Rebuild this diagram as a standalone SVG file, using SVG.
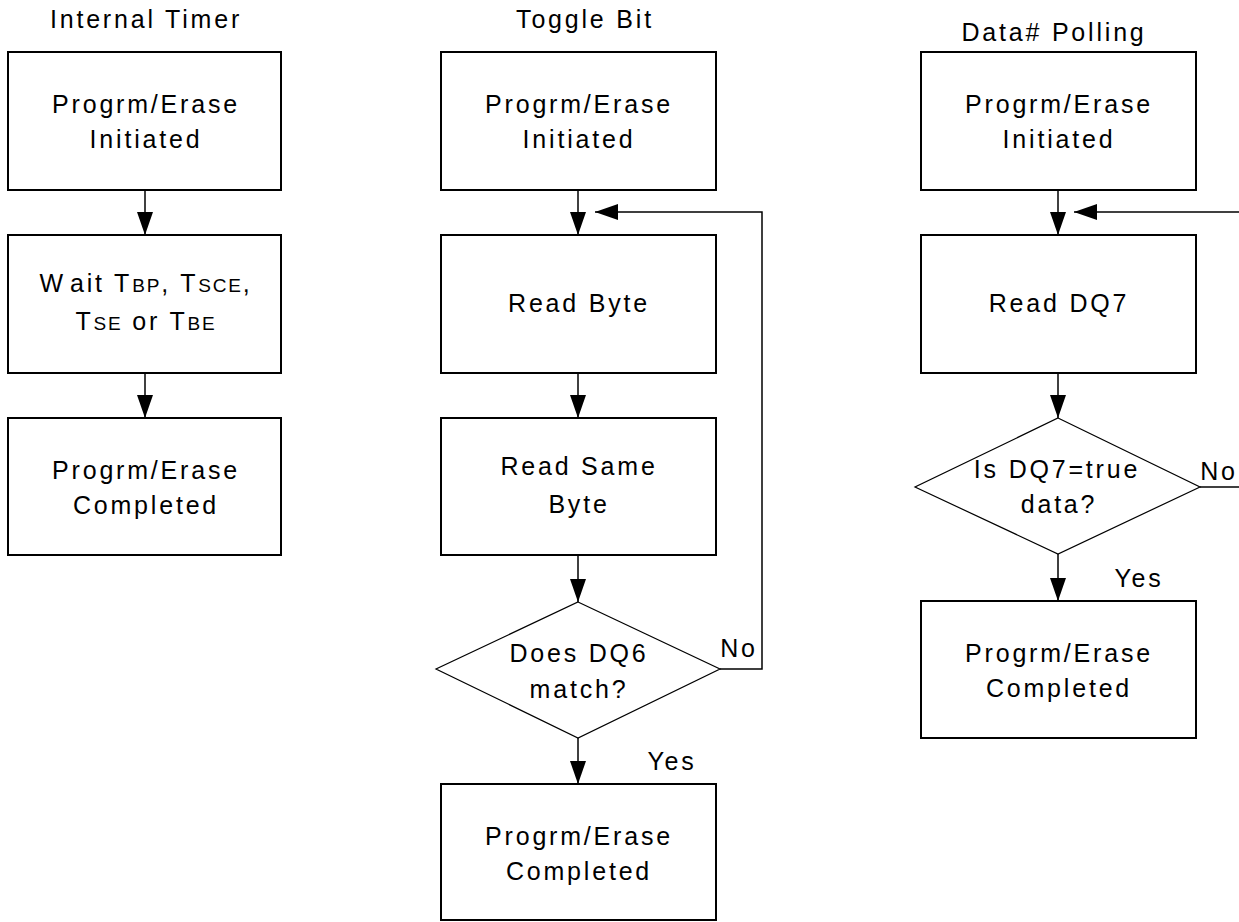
<svg xmlns="http://www.w3.org/2000/svg" width="1239" height="922" viewBox="0 0 1239 922">
<style>
text{font-family:"Liberation Sans",Arial,sans-serif;font-size:25px;letter-spacing:2.8px;fill:#000;text-anchor:middle}
.box{fill:#fff;stroke:#000;stroke-width:2}
.dia{fill:#fff;stroke:#000;stroke-width:1.2}
.ln{fill:none;stroke:#000;stroke-width:1.5}
.sm{font-size:19px;letter-spacing:1.8px}
</style>
<defs>
<marker id="ah" markerWidth="23" markerHeight="16" refX="23" refY="8" viewBox="0 0 23 16" markerUnits="userSpaceOnUse" orient="auto">
<path d="M0,0 L23,8 L0,16 Z" fill="#000"/>
</marker>
</defs>
<g id="titles">
<text x="146" y="28">Internal Timer</text>
<text x="585" y="28">Toggle Bit</text>
<text x="1054" y="41">Data# Polling</text>
</g>
<g id="connectors">
<line class="ln" x1="145" y1="190" x2="145" y2="235" marker-end="url(#ah)"/>
<line class="ln" x1="145" y1="373" x2="145" y2="418" marker-end="url(#ah)"/>
<line class="ln" x1="578" y1="190" x2="578" y2="235" marker-end="url(#ah)"/>
<polyline class="ln" points="720,669 762,669 762,212 595,212" marker-end="url(#ah)"/>
<line class="ln" x1="578" y1="373" x2="578" y2="418" marker-end="url(#ah)"/>
<line class="ln" x1="578" y1="555" x2="578" y2="602" marker-end="url(#ah)"/>
<line class="ln" x1="578" y1="738" x2="578" y2="784" marker-end="url(#ah)"/>
<line class="ln" x1="1058" y1="190" x2="1058" y2="235" marker-end="url(#ah)"/>
<polyline class="ln" points="1200,487 1240,487" />
<line class="ln" x1="1240" y1="212" x2="1074" y2="212" marker-end="url(#ah)"/>
<line class="ln" x1="1058" y1="373" x2="1058" y2="418" marker-end="url(#ah)"/>
<line class="ln" x1="1058" y1="554" x2="1058" y2="601" marker-end="url(#ah)"/>
<text x="739" y="657">No</text>
<text x="672" y="770">Yes</text>
<text x="1219" y="480">No</text>
<text x="1139" y="587">Yes</text>
</g>
<g id="it-start">
<rect class="box" x="8" y="52" width="273" height="138"/>
<text x="146" y="113">Progrm/Erase</text>
<text x="146" y="148">Initiated</text>
</g>
<g id="it-wait">
<rect class="box" x="8" y="235" width="273" height="138"/>
<text x="146" y="292">W<tspan dx="5">ait</tspan> T<tspan class="sm">BP</tspan>, T<tspan class="sm">SCE</tspan>,</text>
<text x="146" y="330">T<tspan class="sm">SE</tspan> or T<tspan class="sm">BE</tspan></text>
</g>
<g id="it-done">
<rect class="box" x="8" y="418" width="273" height="137"/>
<text x="146" y="479">Progrm/Erase</text>
<text x="146" y="514">Completed</text>
</g>
<g id="tb-start">
<rect class="box" x="441" y="52" width="275" height="138"/>
<text x="579" y="113">Progrm/Erase</text>
<text x="579" y="148">Initiated</text>
</g>
<g id="tb-read">
<rect class="box" x="441" y="235" width="275" height="138"/>
<text x="579" y="312">Read Byte</text>
</g>
<g id="tb-read2">
<rect class="box" x="441" y="418" width="275" height="137"/>
<text x="579" y="475">Read Same</text>
<text x="579" y="513">Byte</text>
</g>
<g id="tb-dec">
<polygon class="dia" points="578,602 720,669 578,738 436,669"/>
<text x="579" y="662">Does DQ6</text>
<text x="579" y="698">match?</text>
</g>
<g id="tb-done">
<rect class="box" x="441" y="784" width="275" height="136"/>
<text x="579" y="845">Progrm/Erase</text>
<text x="579" y="880">Completed</text>
</g>
<g id="dp-start">
<rect class="box" x="921" y="52" width="275" height="138"/>
<text x="1059" y="113">Progrm/Erase</text>
<text x="1059" y="148">Initiated</text>
</g>
<g id="dp-read">
<rect class="box" x="921" y="235" width="275" height="138"/>
<text x="1059" y="312">Read DQ7</text>
</g>
<g id="dp-dec">
<polygon class="dia" points="1058,418 1200,487 1058,554 915,487"/>
<text x="1057" y="478">Is DQ7=true</text>
<text x="1059" y="513">data?</text>
</g>
<g id="dp-done">
<rect class="box" x="921" y="601" width="275" height="137"/>
<text x="1059" y="662">Progrm/Erase</text>
<text x="1059" y="697">Completed</text>
</g>
</svg>
